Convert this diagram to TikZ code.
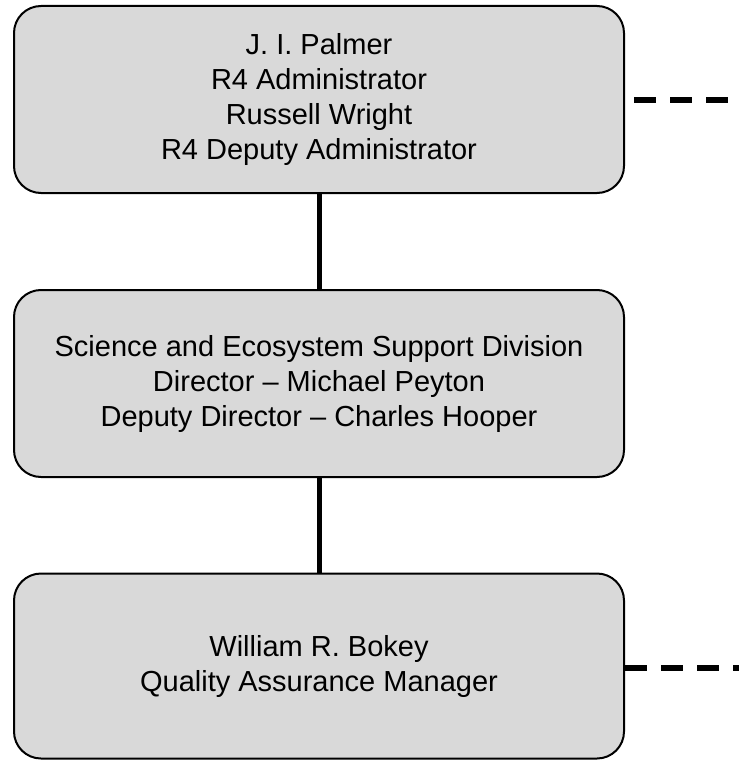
\documentclass[tikz,border=0pt]{standalone}
\usepackage{fontspec}
\setmainfont{Liberation Sans}
\begin{document}
\begin{tikzpicture}[x=1pt,y=-1pt,
    orgbox/.style={draw,line width=2pt,fill=black!15,rounded corners=27pt,
      minimum width=610pt,minimum height=187pt,inner sep=0pt,align=center,
      font=\fontsize{29}{35}\selectfont},
    reportline/.style={line width=6pt,dash pattern=on 21.5pt off 14.5pt}]
      \useasboundingbox (0,0) rectangle (739,760);
      \draw
        (319,99.5) node[orgbox] (admin){J. I. Palmer\\R4 Administrator\\Russell Wright\\R4 Deputy Administrator}
        (319,383.5) node[orgbox] (sesd){Science and Ecosystem Support Division\\Director -- Michael Peyton\\Deputy Director -- Charles Hooper}
        (319,666) node[orgbox,minimum height=185pt] (qam){William R. Bokey\\Quality Assurance Manager};
      \coordinate (adminout) at (739,99.5);
      \coordinate (qamout) at (739,667.5);
      \begin{scope}[line width=5pt]
        \draw (admin) to (sesd);
        \draw (sesd) to (qam);
      \end{scope}
      \begin{scope}[reportline]
        \draw[dash phase=27pt] (admin.east) to (adminout);
        \draw (qam.east |- qamout) to (qamout);
      \end{scope}
    \end{tikzpicture}
\end{document}
